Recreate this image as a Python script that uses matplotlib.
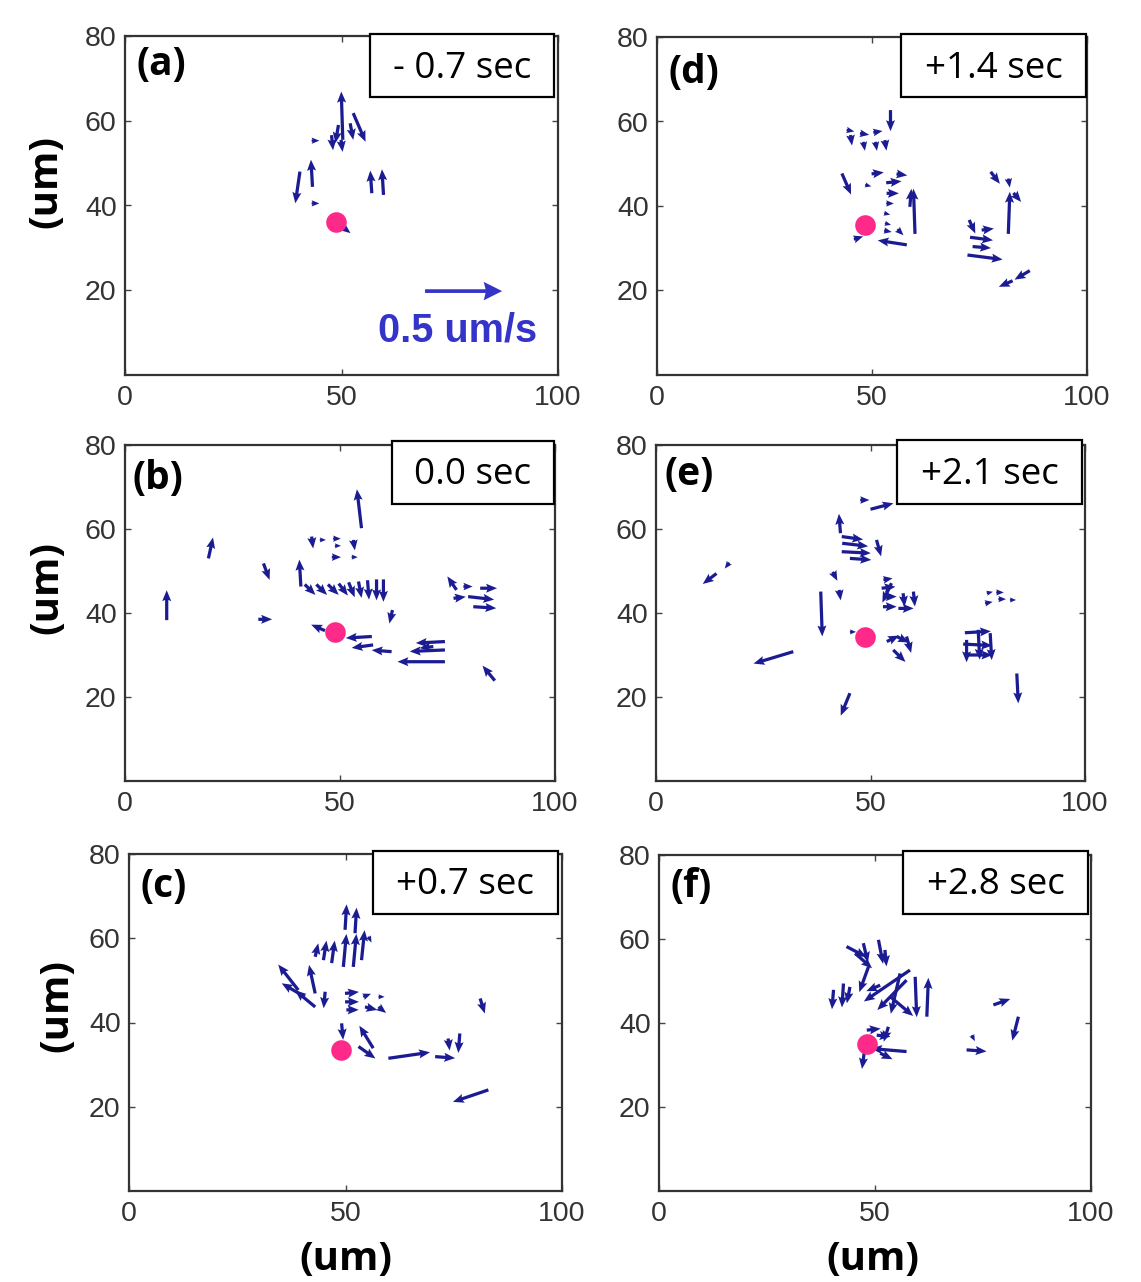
import matplotlib
matplotlib.use("Agg")
import matplotlib.pyplot as plt
from matplotlib.patches import Rectangle

W, H = 1141, 1282
DPI = 100

# ---------------- data (positions in um, velocities in um/s) ----------------
# panel (a)  -0.7 sec
a_x = [50.3, 52.7, 52.0, 43.1, 47.7, 49.9, 43.3, 43.1, 40.4, 57.0, 59.7, 50.3, 49.3]
a_y = [55.5, 61.8, 59.4, 55.3, 56.6, 55.5, 44.4, 40.5, 48.0, 42.9, 42.5, 34.9, 59.0]
a_u = [-0.01, 0.08, 0.02, 0.05, 0.01, 0.01, -0.01, 0.05, -0.03, -0.01, -0.01, 0.05, -0.02]
a_v = [0.32, -0.19, -0.11, 0.00, -0.10, -0.08, 0.18, 0.00, -0.21, 0.15, 0.17, -0.04, -0.12]

# panel (b)  0.0 sec
b_x = [55.0, 9.7, 19.4, 32.2, 31.0, 43.4, 45.3, 48.4, 48.8, 53.1, 48.1, 52.7, 40.9,
       41.8, 44.5, 47.2, 49.7, 52.0, 54.3, 56.4, 58.5, 60.1, 62.2, 46.5,
       57.4, 57.7, 62.0, 74.4, 74.4, 74.4, 71.7,
       77.1, 78.7, 82.6, 76.4, 79.8, 81.0, 86.0]
b_y = [60.2, 38.3, 53.0, 51.8, 38.5, 58.2, 57.4, 57.7, 56.0, 57.4, 53.3, 53.3, 46.3,
       46.8, 46.8, 46.8, 47.0, 47.3, 47.5, 47.8, 48.0, 48.0, 40.7, 35.8,
       34.4, 32.4, 30.8, 33.2, 31.2, 28.4, 32.0,
       45.5, 46.3, 45.9, 43.5, 43.9, 41.5, 23.9]
b_u = [-0.03, 0.00, 0.03, 0.04, 0.09, 0.01, 0.04, 0.05, 0.04, 0.01, 0.06, 0.04, -0.01,
       0.07, 0.07, 0.07, 0.06, 0.04, 0.02, 0.01, 0.00, 0.00, -0.02, -0.09,
       -0.17, -0.14, -0.13, -0.19, -0.23, -0.31, -0.09,
       -0.06, 0.06, 0.11, 0.08, 0.17, 0.15, -0.08]
b_v = [0.26, 0.20, 0.14, -0.11, 0.00, -0.08, 0.00, 0.00, 0.00, -0.07, 0.00, 0.00, 0.18,
       -0.07, -0.07, -0.07, -0.08, -0.10, -0.11, -0.13, -0.14, -0.15, -0.09, 0.04,
       -0.01, -0.02, 0.01, -0.01, -0.01, 0.00, -0.01,
       0.09, 0.00, 0.00, 0.01, -0.02, -0.01, 0.10]

# panel (c)  +0.7 sec
c_x = [49.9, 52.2, 49.5, 51.8, 53.7, 46.8, 44.9, 43.0, 55.3, 39.1, 40.6, 43.0, 43.0,
       45.3, 49.9, 49.9, 50.2, 54.1, 54.5, 57.6, 57.6, 49.1, 56.4, 53.0, 59.9,
       70.7, 73.7, 76.4, 81.1, 83.0]
c_y = [62.0, 61.2, 53.2, 53.2, 54.8, 54.1, 54.8, 55.6, 60.4, 47.7, 46.1, 43.7, 46.9,
       47.3, 46.9, 44.9, 43.0, 46.1, 43.7, 46.1, 43.7, 39.8, 33.9, 34.3, 31.5,
       31.9, 36.2, 37.4, 45.7, 24.0]
c_u = [0.01, 0.01, 0.02, 0.02, 0.02, 0.02, 0.02, 0.02, 0.02, -0.13, -0.15, -0.13, -0.04,
       -0.01, 0.09, 0.09, 0.08, 0.05, 0.08, 0.04, 0.05, 0.01, -0.09, 0.11, 0.27,
       0.13, 0.01, -0.01, 0.03, -0.23]
c_v = [0.17, 0.17, 0.22, 0.22, 0.20, 0.15, 0.13, 0.09, -0.04, 0.17, 0.09, 0.11, 0.19,
       -0.11, 0.01, 0.00, 0.00, 0.02, -0.02, 0.00, -0.04, -0.11, 0.15, -0.08, 0.04,
       -0.01, -0.08, -0.13, -0.10, -0.08]

# panel (d)  +1.4 sec
d_x = [54.3, 44.1, 47.2, 50.3, 45.0, 48.0, 50.8, 53.0, 43.0, 48.4, 49.9, 55.7, 53.3,
       53.4, 53.3, 52.8, 53.0, 52.8, 60.0, 58.8, 45.8, 58.1, 55.9,
       77.6, 81.7, 82.9, 81.7, 72.6, 75.5, 72.8, 73.4, 72.2, 86.7, 82.7]
d_y = [62.7, 58.0, 57.2, 57.4, 56.8, 55.2, 55.2, 55.6, 47.7, 45.0, 47.6, 47.6, 45.5,
       43.0, 40.6, 38.3, 35.9, 34.2, 33.4, 39.8, 32.1, 30.8, 34.5,
       48.1, 46.5, 43.1, 33.4, 36.7, 34.3, 32.6, 30.4, 28.4, 24.7, 22.3]
d_u = [0.00, 0.05, 0.06, 0.06, 0.01, 0.01, 0.01, 0.01, 0.06, 0.04, 0.08, 0.07, 0.10,
       0.08, 0.05, 0.04, 0.04, 0.05, -0.01, 0.01, 0.06, -0.19, 0.04,
       0.06, 0.01, 0.05, 0.01, 0.04, 0.08, 0.15, 0.12, 0.23, -0.10, -0.09]
d_v = [-0.14, -0.01, -0.01, 0.01, -0.07, -0.06, -0.06, -0.07, -0.14, -0.01, 0.01, -0.01, 0.01,
       0.00, 0.00, -0.01, -0.01, -0.01, 0.30, 0.12, 0.02, 0.03, -0.04,
       -0.08, -0.06, -0.06, 0.28, -0.09, 0.01, -0.02, -0.01, -0.03, -0.06, -0.04]

# panel (e)  +2.1 sec
e_x = [47.6, 50.0, 43.0, 43.3, 43.4, 43.3, 45.2, 51.4, 14.1, 17.1, 41.2, 42.7, 38.4,
       53.0, 52.6, 54.9, 52.9, 52.9, 57.6, 60.0, 56.5, 45.2, 53.8, 56.1, 55.3, 58.4,
       32.0, 45.2, 84.1, 72.0, 71.6, 72.0, 75.1, 72.4, 77.9,
       77.1, 76.7, 79.8, 82.5, 79.3]
e_y = [66.9, 64.7, 59.0, 58.2, 56.6, 54.6, 53.0, 57.4, 49.4, 52.0, 49.8, 45.5, 45.1,
       47.9, 45.9, 47.1, 43.9, 41.5, 44.7, 45.1, 41.1, 35.5, 33.2, 34.4, 31.2, 34.4,
       30.8, 20.9, 25.6, 35.3, 32.6, 30.0, 36.0, 33.6, 35.2,
       44.7, 42.3, 43.3, 43.1, 44.9]
e_u = [0.06, 0.15, -0.01, 0.14, 0.17, 0.19, 0.14, 0.03, -0.09, -0.03, 0.03, 0.01, 0.01,
       0.06, 0.09, -0.06, 0.09, 0.09, 0.01, 0.01, 0.10, 0.04, 0.08, 0.08, 0.08, 0.03,
       -0.26, -0.06, 0.01, 0.17, 0.19, 0.18, 0.01, 0.00, 0.01,
       0.04, 0.05, 0.05, 0.04, 0.05]
e_v = [0.00, 0.04, 0.13, -0.02, -0.02, -0.01, -0.01, -0.11, -0.07, -0.04, -0.06, -0.07, -0.30,
       0.01, 0.01, -0.13, 0.00, 0.00, -0.09, -0.10, 0.00, 0.00, 0.04, -0.04, -0.08, -0.11,
       -0.08, -0.15, -0.20, 0.01, -0.01, 0.00, -0.20, -0.15, -0.18,
       0.01, 0.01, 0.00, 0.00, 0.00]

# panel (f)  +2.8 sec
f_x = [43.4, 45.4, 47.3, 50.8, 52.3, 48.5, 40.4, 42.7, 44.2, 58.1, 57.3, 55.8, 51.2,
       53.5, 59.3, 62.0, 48.1, 53.1, 50.4, 57.3, 47.7, 51.2, 77.4, 83.2, 71.2, 72.4]
f_y = [58.2, 56.6, 59.0, 59.8, 57.4, 53.4, 47.9, 49.4, 48.6, 52.6, 50.2, 51.8, 49.0,
       46.3, 51.0, 41.5, 38.3, 39.1, 37.1, 33.2, 34.4, 32.8, 44.3, 41.5, 33.6, 37.1]
f_u = [0.13, 0.11, 0.03, 0.03, 0.01, -0.06, -0.01, -0.01, -0.02, -0.30, -0.19, -0.06, -0.09,
       0.15, 0.01, 0.01, 0.09, -0.03, 0.09, -0.23, -0.02, 0.08, 0.11, -0.04, 0.13, 0.02]
f_v = [-0.07, -0.10, -0.13, -0.16, -0.11, -0.17, -0.13, -0.16, -0.11, -0.21, -0.20, -0.27, -0.04,
       -0.13, -0.27, 0.26, 0.01, -0.10, -0.01, 0.02, -0.15, -0.04, 0.04, -0.16, -0.01, -0.04]

# pink reference point per panel
dot_x = [48.8, 48.8, 48.9, 48.4, 48.8, 48.1]
dot_y = [36.0, 35.4, 33.5, 35.4, 34.3, 34.9]

panel_letters = ["(a)", "(b)", "(c)", "(d)", "(e)", "(f)"]
time_labels = ["- 0.7 sec", "0.0 sec", "+0.7 sec", "+1.4 sec", "+2.1 sec", "+2.8 sec"]
x_ticks = [0, 50, 100]
y_ticks = [20, 40, 60, 80]
key_speed = 0.5          # um/s
key_label = "0.5 um/s"
axis_label = "(um)"

# ---------------- layout (pixels) ----------------
axes_px = [(125, 36, 558, 375), (125, 445, 555, 781), (129, 854, 562, 1191),
           (657, 37, 1087, 375), (656, 445, 1085, 781), (659, 855, 1091, 1191)]
letter_px = [(137, 65), (132, 479), (140, 887), (668, 72), (665, 474), (670, 886)]
box_px = [(370, 34, 554, 97), (392, 441, 554, 504), (373, 851, 558, 914),
          (901, 34, 1086, 97), (897, 440, 1082, 504), (903, 851, 1088, 914)]

SCALE = 0.5 / 17.8       # um/s per um of arrow length
ARROW_C = "#1c1c92"
DOT_C = "#fe2a8a"

fig = plt.figure(figsize=(W / DPI, H / DPI), dpi=DPI)

def fpos(l, t, r, b):
    return [l / W, 1 - b / H, (r - l) / W, (b - t) / H]

data = [(a_x, a_y, a_u, a_v), (b_x, b_y, b_u, b_v), (c_x, c_y, c_u, c_v),
        (d_x, d_y, d_u, d_v), (e_x, e_y, e_u, e_v), (f_x, f_y, f_u, f_v)]

for i in range(6):
    ax = fig.add_axes(fpos(*axes_px[i]))
    ax.set_xlim(0, 100)
    ax.set_ylim(0, 80)
    ax.set_xticks(x_ticks)
    ax.set_yticks(y_ticks)
    ax.tick_params(direction="in", length=4, width=1, top=True, right=True,
                   labelsize=20.5, labelcolor="#333333", color="#444444")
    ax.tick_params(axis="y", pad=6)
    ax.tick_params(axis="x", pad=7)
    for lab in ax.get_xticklabels() + ax.get_yticklabels():
        lab.set_family("Liberation Sans")
    for s in ax.spines.values():
        s.set_linewidth(1.6)
        s.set_color("#333333")
    x, y, u, v = data[i]
    ax.quiver(x, y, u, v, angles="xy", scale_units="xy", scale=SCALE,
              color=ARROW_C, width=0.0075, headwidth=2.8, headlength=3.4,
              headaxislength=3.0, zorder=3)
    ax.scatter([dot_x[i]], [dot_y[i]], s=220, color=DOT_C, zorder=5, linewidths=0)
    if i == 0:
        ax.quiver([69.3], [19.8], [key_speed], [0], angles="xy", scale_units="xy",
                  scale=SCALE, color="#3434c8", width=0.0085, headwidth=5,
                  headlength=5, headaxislength=4.5, zorder=4)
        ax.text(76.9, 10.4, key_label, color="#3434c8", fontsize=28.5, fontweight="bold",
                family="Liberation Sans", ha="center", va="center")

    # panel letter
    lx, ly = letter_px[i]
    fig.text(lx / W, 1 - ly / H, panel_letters[i], fontsize=28, fontweight="bold",
             family="Open Sans", ha="left", va="center", zorder=6)
    # time box
    l, t, r, b = box_px[i]
    fig.add_artist(Rectangle((l / W, 1 - b / H), (r - l) / W, (b - t) / H,
                             transform=fig.transFigure, facecolor="white",
                             edgecolor="black", linewidth=1.6, zorder=5))
    fig.text((l + r) / 2 / W, 1 - ((t + b) / 2 + 3) / H, time_labels[i], fontsize=26.5,
             family="Open Sans", ha="center", va="center", zorder=6)

# axis labels
for yy, xx in [(181, 46), (588, 47), (1005, 57)]:
    fig.text(xx / W, 1 - yy / H, axis_label, rotation=90, fontsize=29,
             fontweight="bold", family="Open Sans", ha="center", va="center")
for xx in [346, 873]:
    fig.text(xx / W, 1 - 1260 / H, axis_label, fontsize=29, fontweight="bold",
             family="Open Sans", ha="center", va="center")

fig.savefig("out.png", dpi=DPI, facecolor="white")
